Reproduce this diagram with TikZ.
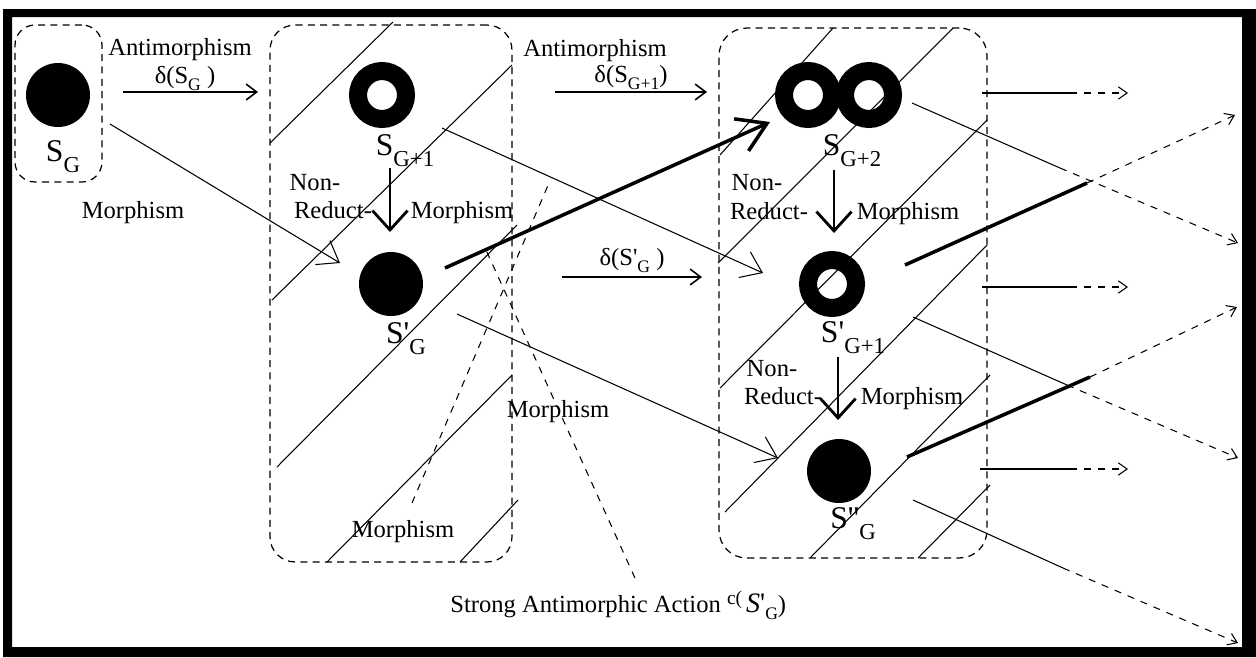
\documentclass[tikz,border=0pt]{standalone}
\usepackage{fontspec}
\setmainfont{Liberation Serif}
\usetikzlibrary{arrows.meta}

\newcommand{\lowsub}[1]{\raisebox{-0.35em}{\fontsize{13}{15}\selectfont #1}}
\newcommand{\dlowsub}[1]{\raisebox{-0.3em}{\fontsize{10}{12}\selectfont #1}}
\newcommand{\setlab}[2]{{\fontsize{18}{20}\selectfont #1\lowsub{#2}}}
\newcommand{\prm}{\textquotesingle}

\begin{document}
\begin{tikzpicture}[
  x=0.02cm, y=-0.02cm,
  setbox/.style={draw, dash pattern=on 4pt off 3pt, line width=0.7pt, inner sep=0pt},
  disk/.style={circle, fill=black, minimum size=1.28cm, inner sep=0pt},
  ring/.style={circle, draw=black, line width=0.36cm, minimum size=0.96cm, inner sep=0pt},
  lbl/.style={font=\fontsize{14}{16}\selectfont, inner sep=0pt, anchor=base},
  hatch/.style={line width=0.6pt},
  morph/.style={-{Straight Barb[length=11pt,width=16pt]}, line width=0.6pt},
  antimorph/.style={-{Straight Barb[length=6pt,width=9pt]}, line width=0.9pt},
  nonred/.style={-{Straight Barb[length=11pt,width=20pt]}, line width=1.6pt},
  strongmap/.style={-{Straight Barb[length=16pt,width=20pt]}, line width=2pt},
  ghost/.style={dash pattern=on 4pt off 4pt, line width=0.6pt, -{Straight Barb[length=5pt,width=7pt]}},
  actline/.style={dash pattern=on 4pt off 4pt, line width=0.6pt}
]
  \useasboundingbox (0,0) rectangle (1256,657);
  % outer frame
  \fill[even odd rule] (3,9) rectangle (1256,657) (12,17) rectangle (1242,647);

  % hatching of the two boxes
  \draw[hatch] (270,143) -- (393,22) (272,300) -- (512,65) (277,467) -- (517,225)
    (327,562) -- (512,375) (460,562) -- (518,500);
  \draw[hatch] (720,155) -- (833,28) (718,263) -- (953,28) (720,388) -- (987,120)
    (725,512) -- (987,245) (810,558) -- (990,375) (918,558) -- (990,485);

  % dashed boxes
  \node[setbox, rounded corners=0.4cm, minimum width=1.74cm, minimum height=3.14cm] (boxone) at (58.5,103.5) {};
  \node[setbox, rounded corners=0.5cm, minimum width=4.84cm, minimum height=10.74cm] (boxtwo) at (391,293.5) {};
  \node[setbox, rounded corners=0.55cm, minimum width=5.36cm, minimum height=10.6cm] (boxthree) at (853,293) {};

  % states
  \node[disk] (sg) at (58,95) {};
  \node[ring] (sgone) at (382,95) {};
  \node[disk] (sgp) at (391,284) {};
  \node[ring] (sgtwoa) at (808,95) {};
  \node[ring] (sgtwob) at (869,95) {};
  \node[ring] (sgpone) at (832,284) {};
  \node[disk] (sgpp) at (839,471) {};

  \node[inner sep=0pt, anchor=base] (lsg) at (63,161) {\setlab{S}{G}};
  \node[inner sep=0pt, anchor=base] (lsgone) at (405,155) {\setlab{S}{G+1}};
  \node[inner sep=0pt, anchor=base] (lsgp) at (406,343) {\setlab{S\prm}{G}};
  \node[inner sep=0pt, anchor=base] (lsgtwo) at (852,155) {\setlab{S}{G+2}};
  \node[inner sep=0pt, anchor=base] (lsgpone) at (853,342) {\setlab{S\prm}{G+1}};
  \node[inner sep=0pt, anchor=base] (lsgpp) at (853,528) {\setlab{S\prm\prm}{G}};

  % labels
  \node[lbl] (antia) at (180,55) {Antimorphism};
  \node[lbl] (dsg) at (185,83) {δ(S\dlowsub{G} )};
  \node[lbl] (antib) at (595,56) {Antimorphism};
  \node[lbl] (dsgone) at (631,82) {δ(S\dlowsub{G+1})};
  \node[lbl] (dsgp) at (632,265) {δ(S\prm\dlowsub{G} )};
  \node[lbl] (morl) at (133,218) {Morphism};
  \node[lbl] (nona) at (315,190) {Non-};
  \node[lbl] (reda) at (333,218) {Reduct-};
  \node[lbl] (mora) at (462,218) {Morphism};
  \node[lbl] (nonb) at (757,190) {Non-};
  \node[lbl] (redb) at (769,219) {Reduct-};
  \node[lbl] (morb) at (908,219) {Morphism};
  \node[lbl] (nonc) at (772,376) {Non-};
  \node[lbl] (redc) at (783,404) {Reduct-};
  \node[lbl] (morc) at (912,404) {Morphism};
  \node[lbl] (mord) at (403,537) {Morphism};
  \node[lbl] (more) at (558,417) {Morphism};
  \node[lbl, anchor=base west] (strong) at (450,612) {Strong Antimorphic Action
    \raisebox{0.3em}{\fontsize{11}{12}\selectfont c(}\,{\fontsize{16}{18}\selectfont\textit{S}\prm}\dlowsub{G})};

  % antimorphisms
  \draw[antimorph] ([shift={(65,-3)}]sg.center) -- ([shift={(-124,-3)}]sgone.center);
  \draw[antimorph] ([shift={(173,-3)}]sgone.center) -- ([shift={(-101,-3)}]sgtwoa.center);
  \draw[antimorph] ([shift={(171,-7)}]sgp.center) -- ([shift={(-130,-7)}]sgpone.center);

  % non-reductive morphisms
  \draw[nonred] ([shift={(8,73)}]sgone.center) -- ([shift={(-1,-52)}]sgp.center);
  \draw[nonred] ([shift={(26,75)}]sgtwoa.center) -- ([shift={(2,-51)}]sgpone.center);
  \draw[nonred] ([shift={(6,73)}]sgpone.center) -- ([shift={(-1,-51)}]sgpp.center);

  % morphisms
  \draw[morph] ([shift={(52,29)}]sg.center) -- ([shift={(-51,-21)}]sgp.center);
  \draw[morph] ([shift={(60,33)}]sgone.center) -- ([shift={(-69,-11)}]sgpone.center);
  \draw[morph] ([shift={(66,30)}]sgp.center) -- ([shift={(-61,-13)}]sgpp.center);
  \draw[strongmap] ([shift={(54,-16)}]sgp.center) -- ([shift={(-38,27)}]sgtwoa.center);

  % continuations to the right
  \coordinate (hone) at (1070,93);   \coordinate (honeend) at (1128,93);
  \coordinate (htwo) at (1070,287);  \coordinate (htwoend) at (1128,287);
  \coordinate (hthree) at (1070,469); \coordinate (hthreeend) at (1128,469);
  \coordinate (ttwo) at (1087,183);  \coordinate (ttwoend) at (1235,115);
  \coordinate (tthree) at (1090,377); \coordinate (tthreeend) at (1237,307);
  \coordinate (mfour) at (1060,168); \coordinate (mfourend) at (1238,243);
  \coordinate (mfive) at (1067,385); \coordinate (mfiveend) at (1238,458);
  \coordinate (msix) at (1063,568);  \coordinate (msixend) at (1238,643);

  \draw[hatch] ([shift={(113,-2)}]sgtwob.center) -- (hone);
  \draw[ghost] (hone) -- (honeend);
  \draw[hatch] ([shift={(150,3)}]sgpone.center) -- (htwo);
  \draw[ghost] (htwo) -- (htwoend);
  \draw[hatch] ([shift={(141,-2)}]sgpp.center) -- (hthree);
  \draw[ghost] (hthree) -- (hthreeend);

  \draw[line width=2pt] ([shift={(73,-19)}]sgpone.center) -- (ttwo);
  \draw[ghost] (ttwo) -- (ttwoend);
  \draw[line width=2pt] ([shift={(68,-14)}]sgpp.center) -- (tthree);
  \draw[ghost] (tthree) -- (tthreeend);

  \draw[hatch] ([shift={(43,8)}]sgtwob.center) -- (mfour);
  \draw[ghost] (mfour) -- (mfourend);
  \draw[hatch] ([shift={(81,33)}]sgpone.center) -- (mfive);
  \draw[ghost] (mfive) -- (mfiveend);
  \draw[hatch] ([shift={(74,29)}]sgpp.center) -- (msix);
  \draw[ghost] (msix) -- (msixend);

  % strong antimorphic action
  \coordinate (actone) at (549,183);
  \coordinate (acttwo) at (486,250);
  \draw[actline] ([shift={(9,-34)}]mord.base) -- (actone);
  \draw[actline] ([shift={(185,-34)}]strong.base west) -- (acttwo);
\end{tikzpicture}
\end{document}
